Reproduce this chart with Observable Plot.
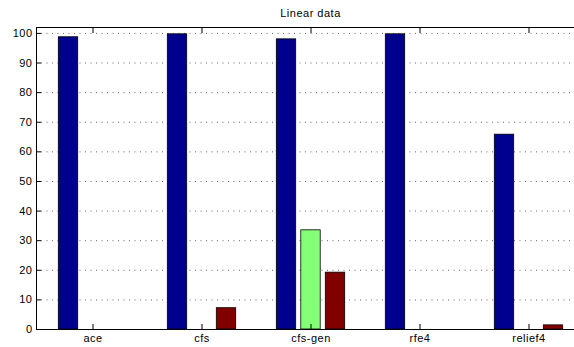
<!DOCTYPE html>
<html>
<head>
<meta charset="utf-8">
<script src="https://cdn.jsdelivr.net/npm/d3@7"></script>
<script src="https://cdn.jsdelivr.net/npm/@observablehq/plot@0.6"></script>
<style>
  html, body { margin: 0; padding: 0; background: white; }
  #chart { width: 574px; height: 347px; overflow: hidden; }
</style>
</head>
<body>
<div id="chart"></div>
<script>
const title = "Linear data";
const categories = ["ace", "cfs", "cfs-gen", "rfe4", "relief4"];
const seriesNames = ["s1", "s2", "s3"];
const series1 = [98.7, 99.7, 98.0, 99.7, 65.8];
const series2 = [0, 0, 33.5, 0, 0];
const series3 = [0, 7.2, 19.2, 0, 1.4];
const yTicks = [0, 10, 20, 30, 40, 50, 60, 70, 80, 90, 100];
const colors = ["#00008F", "#86FF78", "#800000"];

const allSeries = [series1, series2, series3];
const data = allSeries.flatMap((vals, si) =>
  categories.map((c, i) => ({cat: c, series: seriesNames[si], si, value: vals[i]}))
);

const groupStep = 24.5;
const barInset = 44.8;

const marks = [
  Plot.ruleY(yTicks.slice(1), {stroke: "#666", strokeDasharray: "1,4.5", strokeWidth: 1, insetLeft: 5}),
  ...seriesNames.map((s, si) =>
    Plot.barY(data.filter(d => d.si === si), {
      x: "cat", y: "value", fill: colors[si], stroke: "#000", strokeWidth: 0.8,
      insetLeft: barInset, insetRight: barInset, dx: (si - 1) * groupStep
    })
  ),
  Plot.frame({stroke: "#000", strokeWidth: 1}),
  Plot.axisX({anchor: "bottom", tickSize: -5, text: null, label: null, stroke: "#000"}),
  Plot.axisX({anchor: "top", tickSize: -5, text: null, label: null, stroke: "#000"}),
  Plot.axisY({anchor: "left", ticks: yTicks, tickSize: -5, text: null, label: null, stroke: "#000"}),
  Plot.axisX({anchor: "bottom", tickSize: 0, tickPadding: 5, label: null, fill: "#000"}),
  Plot.axisY({anchor: "left", ticks: yTicks, tickSize: 0, tickPadding: 4, label: null, fill: "#000"}),
  Plot.text([title], {frameAnchor: "top", dy: -18, text: d => d, fill: "#000", textAnchor: "middle"})
];

const chart = Plot.plot({
  width: 574,
  height: 347,
  marginTop: 27,
  marginBottom: 18,
  marginLeft: 36,
  marginRight: -10,
  style: {fontFamily: "'Liberation Sans', Arial, sans-serif", fontSize: "11px", letterSpacing: "0.5px", color: "#000", background: "white", overflow: "hidden"},
  x: {type: "band", domain: categories, padding: 0, axis: null},
  y: {domain: [0, 102], axis: null},
  marks
});
document.getElementById("chart").append(chart);
</script>
</body>
</html>
